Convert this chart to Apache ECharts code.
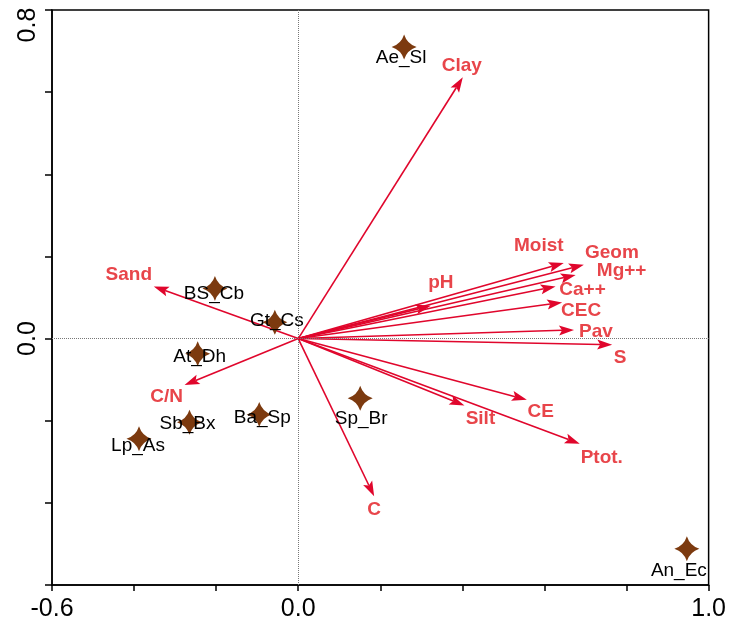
<!DOCTYPE html>
<html><head><meta charset="utf-8">
<script src="https://cdn.jsdelivr.net/npm/echarts@6/dist/echarts.min.js"></script>
<style>html,body{margin:0;padding:0;background:#fff}#c{width:729px;height:625px}</style>
</head><body><div id="c"></div>
<script>
// Environmental variable arrows (biplot scores)
const envNames = ['Clay','Sand','C/N','C','Silt','CE','Ptot.','S','Pav','CEC','Ca++','Mg++','Geom','Moist','pH'];
const envX = [0.401,-0.352,-0.277,0.185,0.405,0.557,0.686,0.765,0.672,0.643,0.627,0.676,0.696,0.647,0.323];
const envY = [0.636,0.127,-0.113,-0.384,-0.163,-0.149,-0.256,-0.015,0.021,0.088,0.127,0.155,0.180,0.184,0.080];
// Species scores
const speciesNames = ['Ae_Sl','BS_Cb','Gt_Cs','At_Dh','Ba_Sp','Sb_Bx','Lp_As','Sp_Br','An_Ec'];
const speciesX = [0.258,-0.203,-0.057,-0.245,-0.095,-0.265,-0.388,0.151,0.947];
const speciesY = [0.710,0.122,0.040,-0.037,-0.185,-0.204,-0.244,-0.145,-0.512];
// Tick labels shown
const xTickLabels = [-0.6, 0.0, 1.0];
const yTickLabels = [0.0, 0.8];

// ---- styles (label placement offsets in pixels) ----
const envLabelOffset = [[-1,-12],[-25,-12],[-18,12],[0,13],[16,13],[14,12],[22,14],[8,13],[22,2],[19,8],[27,3],[46,-4],[28,-12],[-25,-17],[10,-23]];
const speciesLabelOffset = [[-3,11],[-1,5],[2,-1],[2,3],[3,3],[-2,1],[-1,7],[1,21],[-8,22]];
const arrowColor = '#E0062C';
const envLabelColor = '#E8454A';
const starColor = '#7C3A0F';
const FONT = '"Liberation Sans", Arial, sans-serif';

const chart = echarts.init(document.getElementById('c'));
const near = (arr, v) => arr.some(t => Math.abs(t - v) < 1e-6);

const option = {
  animation: false,
  grid: {left: 52, right: 19, top: 10, bottom: 40, show: true, borderColor: '#000', borderWidth: 1.5, backgroundColor: 'transparent'},
  xAxis: {
    type: 'value', min: -0.6, max: 1.0, interval: 0.2,
    axisLine: {onZero: false, lineStyle: {color: '#000', width: 1.5}},
    axisTick: {show: true, length: 6, lineStyle: {color: '#000', width: 1.5}},
    splitLine: {show: false},
    axisLabel: {
      color: '#000', fontSize: 25, fontFamily: FONT, margin: 12,
      showMinLabel: true, showMaxLabel: true,
      formatter: v => near(xTickLabels, v) ? v.toFixed(1) : ''
    }
  },
  yAxis: {
    type: 'value', min: -0.6, max: 0.8, interval: 0.2,
    axisLine: {onZero: false, lineStyle: {color: '#000', width: 1.5}},
    axisTick: {show: true, length: 7, lineStyle: {color: '#000', width: 1.5}},
    splitLine: {show: false},
    axisLabel: {
      color: '#000', fontSize: 25, fontFamily: FONT, margin: 11, rotate: 90,
      showMinLabel: true, showMaxLabel: true,
      formatter: v => {
        if (!near(yTickLabels, v)) return '';
        const s = v.toFixed(1);
        return Math.abs(v - 0.8) < 1e-6 ? '{top|' + s + '}' : s;
      },
      rich: {top: {fontSize: 25, fontFamily: FONT, color: '#000', padding: [0, 30, 0, 0]}}
    }
  },
  series: [
    {
      type: 'scatter', data: [], silent: true,
      markLine: {
        silent: true, symbol: ['none', 'none'], animation: false,
        label: {show: false},
        lineStyle: {type: 'dotted', color: '#777', width: 1},
        emphasis: {disabled: true},
        data: [{xAxis: 0}, {yAxis: 0}]
      }
    },
    {
      type: 'custom', silent: true,
      data: envNames.map((n, i) => [envX[i], envY[i], n]),
      renderItem: function (params, api) {
        const i = params.dataIndex;
        const p0 = api.coord([0, 0]);
        const p1 = api.coord([api.value(0), api.value(1)]);
        const dx = p1[0] - p0[0], dy = p1[1] - p0[1];
        const L = Math.hypot(dx, dy);
        const ux = dx / L, uy = dy / L;
        const hl = 15, hw = 5;
        const bx = p1[0] - ux * hl, by = p1[1] - uy * hl;
        const off = envLabelOffset[i];
        return {
          type: 'group',
          children: [
            {type: 'line', shape: {x1: p0[0], y1: p0[1], x2: bx + ux * 3, y2: by + uy * 3},
             style: {stroke: arrowColor, lineWidth: 1.6}},
            {type: 'polygon', shape: {points: [
               [p1[0], p1[1]],
               [bx - uy * hw, by + ux * hw],
               [bx + ux * 3, by + uy * 3],
               [bx + uy * hw, by - ux * hw]
             ]}, style: {fill: arrowColor}},
            {type: 'text', x: p1[0] + off[0], y: p1[1] + off[1],
             style: {text: envNames[i], fill: envLabelColor, fontSize: 19, fontWeight: 'bold',
                     fontFamily: FONT, align: 'center', verticalAlign: 'middle'}}
          ]
        };
      }
    },
    {
      type: 'scatter', silent: true,
      symbol: 'path://M50,0 Q62,38 100,50 Q62,62 50,100 Q38,62 0,50 Q38,38 50,0 Z',
      symbolSize: 25,
      itemStyle: {color: starColor, opacity: 1},
      data: speciesNames.map((n, i) => ({
        value: [speciesX[i], speciesY[i]], name: n,
        label: {offset: speciesLabelOffset[i]}
      })),
      label: {
        show: true, position: 'inside', formatter: p => p.name,
        color: '#000', fontSize: 19, fontFamily: FONT
      },
      emphasis: {disabled: true}
    }
  ]
};
chart.setOption(option);
</script>
</body></html>
